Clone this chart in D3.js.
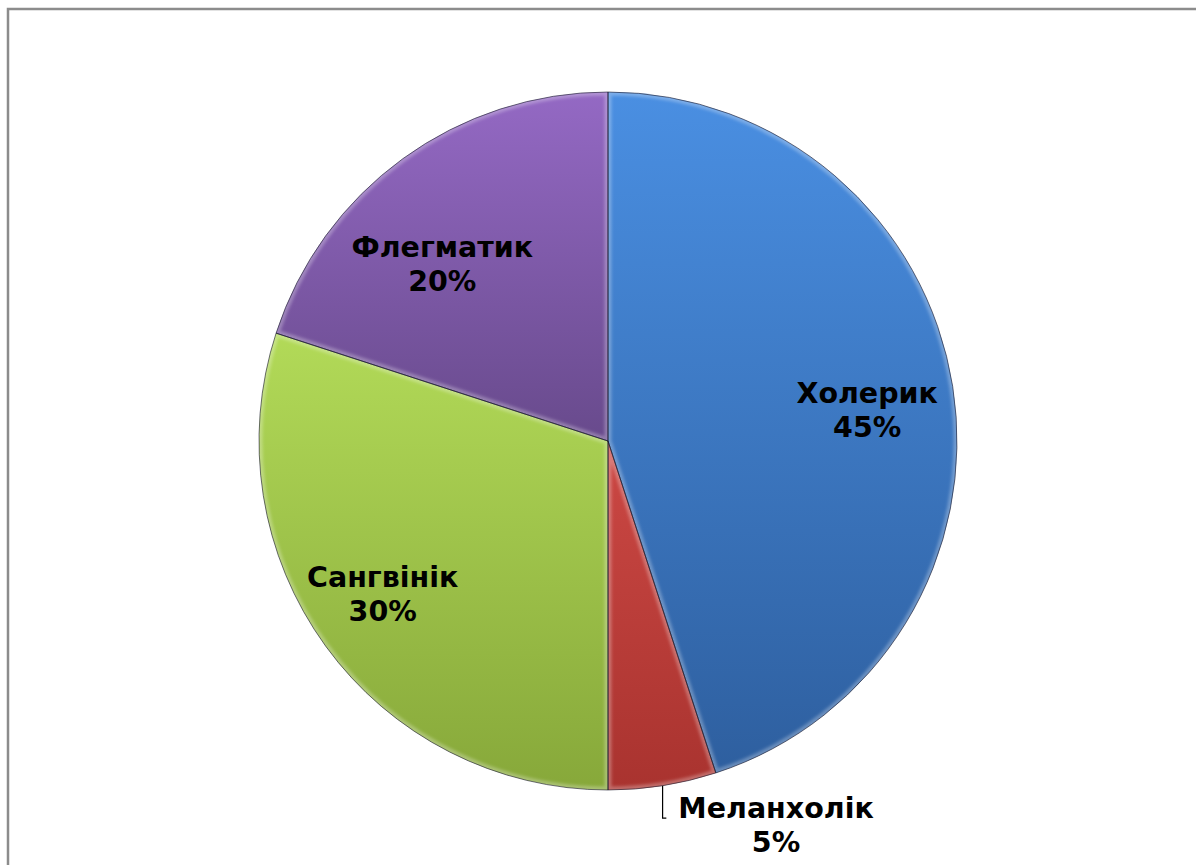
<!DOCTYPE html>
<html>
<head>
<meta charset="utf-8">
<script src="https://cdn.jsdelivr.net/npm/d3@7"></script>
<style>
  html, body { margin: 0; padding: 0; background: #ffffff; }
  svg { display: block; }
</style>
</head>
<body>
<svg id="chart" width="1196" height="865"></svg>
<script>
// Temperament types and their shares (%)
const categories = ["Холерик", "Меланхолік", "Сангвінік", "Флегматик"];
const values = [45, 5, 30, 20];
const valueLabels = ["45%", "5%", "30%", "20%"];

// Slice gradient colours (top, bottom)
const topColors = ["#4a8fe2", "#cc4844", "#b2da58", "#9469c4"];
const bottomColors = ["#2e5f9f", "#a9332f", "#87a83a", "#684a8c"];

const W = 1196, H = 865;
const cx = 608, cy = 441, R = 349;

const svg = d3.select("#chart");

// Frame around the chart area
svg.append("rect")
  .attr("x", 8).attr("y", 9)
  .attr("width", W + 20).attr("height", H + 20)
  .attr("fill", "none")
  .attr("stroke", "#8c8c8c")
  .attr("stroke-width", 2.5);

const defs = svg.append("defs");

categories.forEach((c, i) => {
  const g = defs.append("linearGradient")
    .attr("id", "grad" + i)
    .attr("x1", 0).attr("y1", 0).attr("x2", 0).attr("y2", 1);
  g.append("stop").attr("offset", "0%").attr("stop-color", topColors[i]);
  g.append("stop").attr("offset", "100%").attr("stop-color", bottomColors[i]);
});

// soft blur for bevel highlights
const blur = defs.append("filter").attr("id", "soft")
  .attr("x", "-10%").attr("y", "-10%").attr("width", "120%").attr("height", "120%");
blur.append("feGaussianBlur").attr("stdDeviation", 1.6);

const pie = d3.pie().sort(null).value(d => d);
const arcs = pie(values);

const arc = d3.arc().innerRadius(0).outerRadius(R);

// clip paths for inner bevel strokes
arcs.forEach((a, i) => {
  defs.append("clipPath").attr("id", "clip" + i)
    .append("path").attr("d", arc(a)).attr("transform", `translate(${cx},${cy})`);
});

const g = svg.append("g").attr("transform", `translate(${cx},${cy})`);

g.selectAll("path.slice")
  .data(arcs)
  .join("path")
  .attr("class", "slice")
  .attr("d", arc)
  .attr("fill", (d, i) => `url(#grad${i})`);

// bevel: light inner rim
const bevel = svg.append("g");
arcs.forEach((a, i) => {
  bevel.append("g")
    .attr("clip-path", `url(#clip${i})`)
    .append("path")
    .attr("transform", `translate(${cx},${cy})`)
    .attr("d", arc(a))
    .attr("fill", "none")
    .attr("stroke", "rgba(255,255,255,0.28)")
    .attr("stroke-width", 7)
    .attr("filter", "url(#soft)");
});

// dark outline on top
svg.append("g").attr("transform", `translate(${cx},${cy})`)
  .selectAll("path")
  .data(arcs)
  .join("path")
  .attr("d", arc)
  .attr("fill", "none")
  .attr("stroke", "rgba(20,20,40,0.6)")
  .attr("stroke-width", 1);

// Label placement
const labelArc = d3.arc().innerRadius(R * 0.72).outerRadius(R * 0.72);
const outerArc = d3.arc().innerRadius(R * 1.1).outerRadius(R * 1.1);
const outside = [false, true, false, false];
const labelShift = [[11, 8], [108, 5], [-22, 5], [-18, 26]];

const labels = svg.append("g")
  .attr("font-family", "'DejaVu Sans', sans-serif")
  .attr("font-weight", "bold")
  .attr("font-size", 28.5)
  .attr("fill", "#000")
  .attr("text-anchor", "middle");

arcs.forEach((a, i) => {
  const c = outside[i] ? outerArc.centroid(a) : labelArc.centroid(a);
  const lx = cx + c[0] + labelShift[i][0];
  const ly = cy + c[1] + labelShift[i][1];
  const t = labels.append("text");
  t.append("tspan").attr("x", lx).attr("y", ly - 7).text(categories[i]);
  t.append("tspan").attr("x", lx).attr("y", ly + 27).text(valueLabels[i]);

  if (outside[i]) {
    // leader line from slice edge to label
    const mid = (a.startAngle + a.endAngle) / 2;
    const sx = cx + R * Math.sin(mid);
    const sy = cy - R * Math.cos(mid);
    const firstLine = t.select("tspan").node().getBBox();
    const ex = firstLine.x - 12;
    const ey = ly - 7;
    svg.append("path")
      .attr("d", `M${sx},${sy} L${sx},${ey} L${ex},${ey}`)
      .attr("fill", "none")
      .attr("stroke", "#000")
      .attr("stroke-width", 1.2);
  }
});
</script>
</body>
</html>
